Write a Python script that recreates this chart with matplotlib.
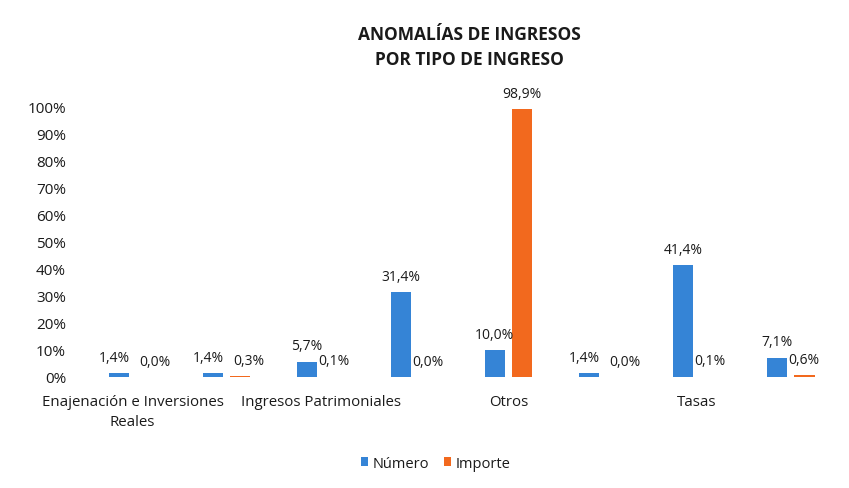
import matplotlib
matplotlib.use('Agg')
import matplotlib.pyplot as plt
import numpy as np

# hidden tick labels (Excel skipped every other one) are left empty
categories = ['Enajenación e Inversiones\nReales', '', 'Ingresos Patrimoniales', '',
              'Otros', '', 'Tasas', '']
numero = [1.4, 1.4, 5.7, 31.4, 10.0, 1.4, 41.4, 7.1]
importe = [0.0, 0.3, 0.1, 0.0, 98.9, 0.0, 0.1, 0.6]
yticks = [0, 10, 20, 30, 40, 50, 60, 70, 80, 90, 100]

blue = '#3584D6'
orange = '#F2691E'
txt = '#1a1a1a'

plt.rcParams['font.family'] = ['Open Sans', 'DejaVu Sans']

fig = plt.figure(figsize=(8.49, 4.89), dpi=100)
ax = fig.add_axes([0.1007, 0.227, 0.8858, 0.554])

x = np.arange(len(categories))
w = 0.22
off = 0.145
b1 = ax.bar(x - off, numero, w, color=blue, label='Número')
b2 = ax.bar(x + off, importe, w, color=orange, label='Importe')

for side, bars, vals in ((-1, b1, numero), (1, b2, importe)):
    for i, (r, v) in enumerate(zip(bars, vals)):
        # push apart labels that sit at the same height, as Excel does
        dx = 0
        if abs(numero[i] - importe[i]) < 3:
            dx = -3 if side < 0 else 6
        ax.annotate(f'{v:.1f}%'.replace('.', ','),
                    (r.get_x() + r.get_width() / 2, v),
                    xytext=(dx, 6), textcoords='offset points',
                    ha='center', va='bottom', fontsize=10, color=txt,
                    annotation_clip=False)

ax.set_xlim(-0.5, len(categories) - 0.5)
ax.set_ylim(0, 100)
ax.set_yticks(yticks)
ax.set_yticklabels([f'{t}%' for t in yticks], fontsize=11, color=txt)
ax.set_xticks(x)
ax.set_xticklabels(categories, fontsize=10.8, color=txt, linespacing=1.45)
ax.tick_params(length=0, pad=14)
ax.tick_params(axis='x', pad=12)
for s in ax.spines.values():
    s.set_visible(False)

fig.text(0.553, 0.903, 'ANOMALÍAS DE INGRESOS\nPOR TIPO DE INGRESO',
         ha='center', va='center', fontsize=12.5, fontweight='bold',
         color=txt, linespacing=1.45)

fig.legend(handles=[b1, b2], loc='center', bbox_to_anchor=(0.513, 0.051),
           ncol=2, frameon=False, fontsize=10.5, handlelength=0.5,
           handleheight=0.6, handletextpad=0.3, columnspacing=1.0,
           labelcolor=txt)

fig.savefig('out.png', dpi=100)
